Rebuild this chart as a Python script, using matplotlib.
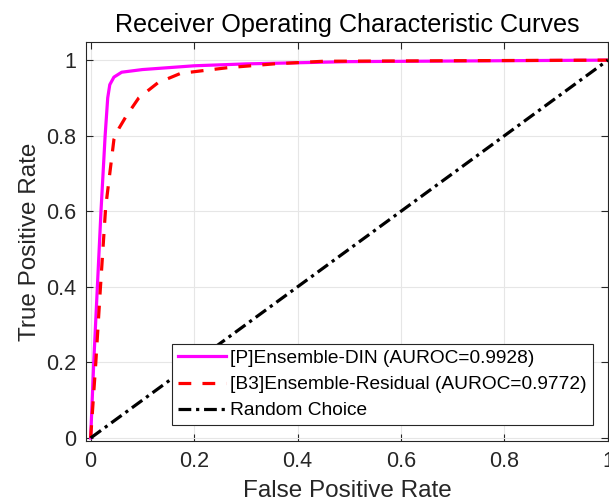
import matplotlib
matplotlib.use("Agg")
import matplotlib.pyplot as plt

plt.rcParams["font.family"] = ["Liberation Sans", "DejaVu Sans"]

# ROC points
din_fpr = [0.0, 0.006, 0.013, 0.020, 0.028, 0.033, 0.037, 0.045, 0.060, 0.100, 0.200, 0.300, 0.500, 1.0]
din_tpr = [0.0, 0.200, 0.400, 0.600, 0.800, 0.900, 0.935, 0.955, 0.968, 0.975, 0.985, 0.990, 0.996, 1.0]

res_fpr = [0.0, 0.010, 0.019, 0.029, 0.037, 0.045, 0.055, 0.068, 0.093, 0.130, 0.174, 0.265, 0.354, 0.450, 1.0]
res_tpr = [0.0, 0.200, 0.400, 0.610, 0.700, 0.790, 0.820, 0.850, 0.900, 0.940, 0.965, 0.980, 0.990, 0.997, 1.0]

rand_x = [0.0, 1.0]
rand_y = [0.0, 1.0]

labels = [
    "[P]Ensemble-DIN (AUROC=0.9928)",
    "[B3]Ensemble-Residual (AUROC=0.9772)",
    "Random Choice",
]
ticks = [0, 0.2, 0.4, 0.6, 0.8, 1]
tick_labels = ["0", "0.2", "0.4", "0.6", "0.8", "1"]

fig = plt.figure(figsize=(6.09, 5.04), dpi=100)
ax = fig.add_axes([0.1412, 0.125, 0.857, 0.7917])

ax.plot(din_fpr, din_tpr, color="#ff00ff", linewidth=2.3, label=labels[0])
ax.plot(res_fpr, res_tpr, color="#ff0000", linewidth=2.3, linestyle=(0, (4, 3.5)), label=labels[1])
ax.plot(rand_x, rand_y, color="black", linewidth=2.3, linestyle=(0, (4, 1.5, 1, 1.5)), label=labels[2])

ax.set_xlim(-0.009, 1.0)
ax.set_ylim(-0.008, 1.048)
ax.set_xticks(ticks)
ax.set_xticklabels(tick_labels)
ax.set_yticks(ticks)
ax.set_yticklabels(tick_labels)
ax.tick_params(direction="in", top=True, right=True, labelsize=15.5, length=5,
               color="#262626", labelcolor="#262626", pad=7)
ax.grid(True, color="#e6e6e6", linewidth=0.8)
ax.set_axisbelow(True)
for spine in ax.spines.values():
    spine.set_color("#262626")
    spine.set_linewidth(0.8)

ax.set_xlabel("False Positive Rate", fontsize=17.5, color="#262626", labelpad=6)
ax.set_ylabel("True Positive Rate", fontsize=17.5, color="#262626", labelpad=4)
ax.set_title("Receiver Operating Characteristic Curves", fontsize=18.1, color="black", pad=7)

leg = ax.legend(loc="lower right", bbox_to_anchor=(0.971, 0.04), fontsize=13.8,
                fancybox=False, framealpha=1, edgecolor="#262626",
                handlelength=2.5, handletextpad=0.25, borderpad=0.3,
                labelspacing=0.45, borderaxespad=0)
leg.get_frame().set_linewidth(0.8)

fig.savefig("out.png", dpi=100)
